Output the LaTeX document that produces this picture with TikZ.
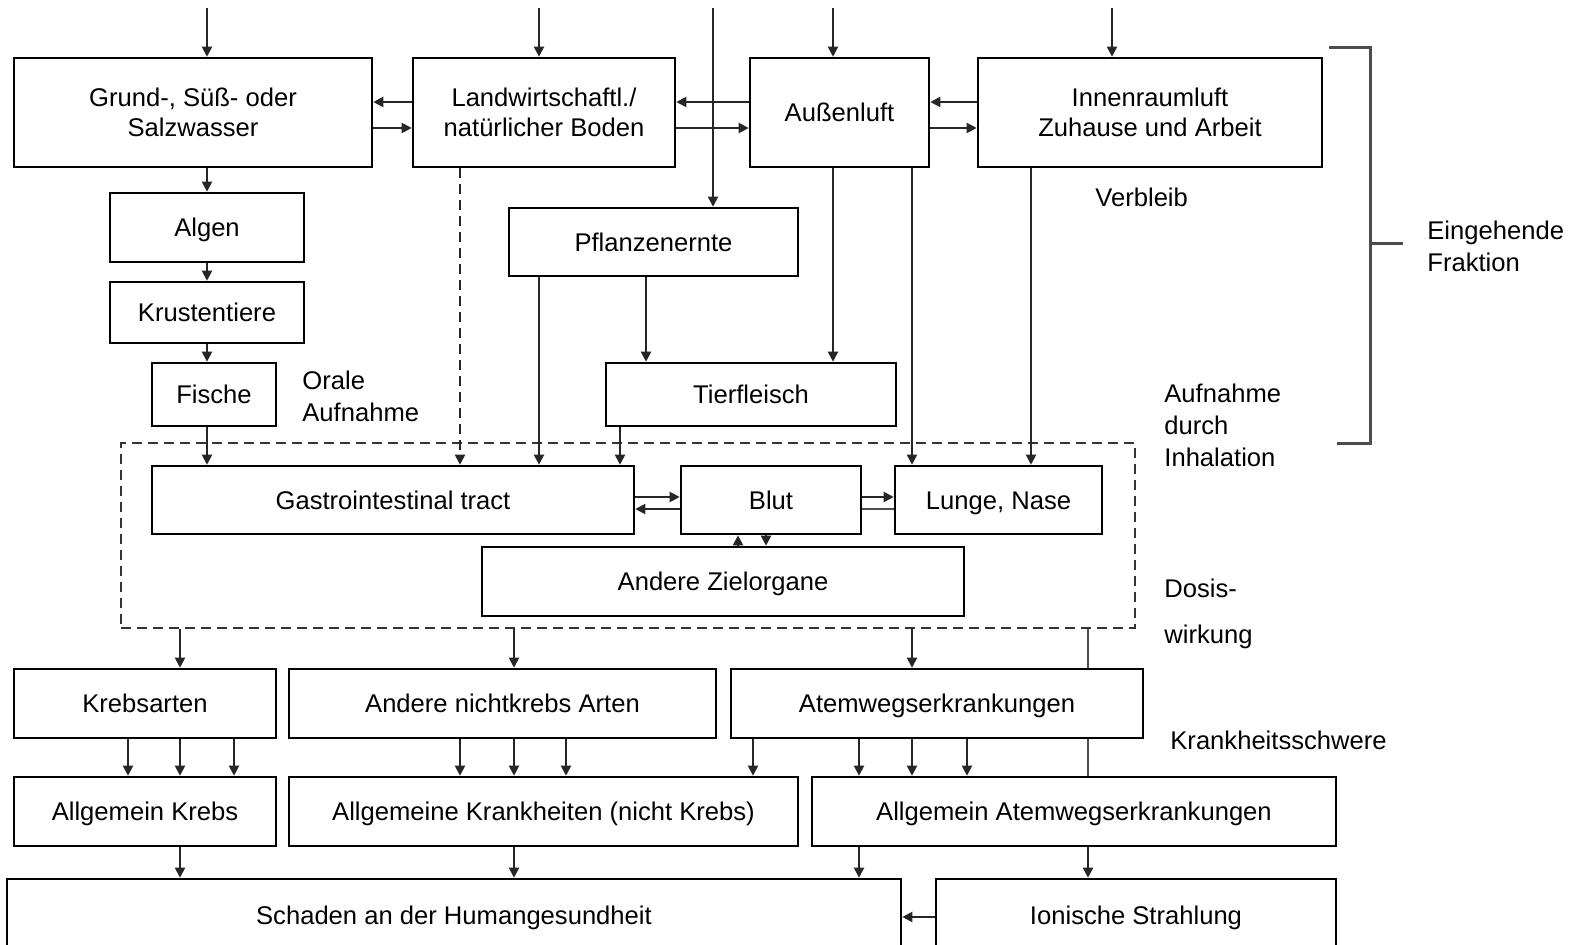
\documentclass[tikz,border=0pt]{standalone}
\usepackage{fontspec}
\setmainfont{Liberation Sans}
\usetikzlibrary{arrows.meta,backgrounds}
\newcommand\vstr{\rule[-2.8pt]{0pt}{14.8pt}}
\newcommand\bx[7][box]{\node[#1, minimum width={(#5-#3)*0.5pt}, minimum height={(#6-#4)*0.5pt}] (#2) at ({(#3+#5)/2},{(#4+#6)/2}) {\vstr#7\vstr};}
\tikzset{
  box/.style={draw, line width=1.3pt, fill=white, inner sep=0pt, align=center, font=\fontsize{12.8}{15}\selectfont},
  dashbox/.style={draw, line width=1pt, dash pattern=on 5pt off 3pt, black!80, inner sep=0pt},
  arr/.style={line width=1pt, black!85, -{Triangle[length=5pt,width=5pt]}},
  dasharr/.style={arr, dash pattern=on 5pt off 3pt},
  plain/.style={line width=1pt, black!70},
  lbl/.style={inner sep=0pt, anchor=west, align=left, font=\fontsize{12.8}{16}\selectfont},
  brk/.style={line width=1.5pt, black!70}
}
\begin{document}
\begin{tikzpicture}[x=0.5pt,y=-0.5pt]
\useasboundingbox (0,0) rectangle (1579,945);
\clip (0,0) rectangle (1579,945);
% column / row helpers
\foreach \c in {128,180,207,234,460,514,539,566,620,646,738,753,766,833,859,912,967,1031,1088}{\coordinate (c\c) at (\c,0);}
\coordinate (r1) at (0,102);
\coordinate (r2) at (0,128);
\coordinate (r3) at (0,497);
\coordinate (r4) at (0,509);
\coordinate (r5) at (0,917);
\coordinate (t1) at (207,8);
\coordinate (t2) at (539,8);
\coordinate (t3) at (713,8);
\coordinate (t4) at (833,8);
\coordinate (t5) at (1112,8);
% dashed dose region
\node[dashbox, minimum width={(1135-121)*0.5pt}, minimum height={(628-443)*0.5pt}] (dose) at ({(121+1135)/2},{(443+628)/2}) {};
% boxes
\bx{grund}{14}{58}{372}{167}{Grund-, Süß- oder\\Salzwasser}
\bx{land}{413}{58}{675}{167}{Landwirtschaftl./\\natürlicher Boden}
\bx{aussen}{750}{58}{929}{167}{Außenluft}
\bx{innen}{978}{58}{1322}{167}{Innenraumluft\\Zuhause und Arbeit}
\bx{algen}{110}{193}{304}{262}{Algen}
\bx{krust}{110}{282}{304}{343}{Krustentiere}
\bx{fische}{152}{363}{276}{426}{Fische}
\bx{pflanz}{509}{208}{798}{276}{Pflanzenernte}
\bx{tier}{606}{363}{896}{426}{Tierfleisch}
\bx{gastro}{152}{466}{634}{534}{Gastrointestinal tract}
\bx{blut}{681}{466}{861}{534}{Blut}
\bx{lunge}{895}{466}{1102}{534}{Lunge, Nase}
\bx{ziel}{482}{547}{964}{616}{Andere Zielorgane}
\bx{krebs}{14}{669}{276}{738}{Krebsarten}
\bx{nichtk}{289}{669}{716}{738}{Andere nichtkrebs Arten}
\bx{atem}{731}{669}{1143}{738}{Atemwegserkrankungen}
\bx{allgk}{14}{777}{276}{846}{Allgemein Krebs}
\bx{allgkr}{289}{777}{798}{846}{Allgemeine Krankheiten (nicht Krebs)}
\bx{allgat}{812}{777}{1336}{846}{Allgemein Atemwegserkrankungen}
\bx{schaden}{7}{879}{901}{951}{Schaden an der Humangesundheit}
\bx{ionisch}{936}{879}{1336}{951}{Ionische Strahlung}
% hidden line behind Atemwegserkrankungen
\begin{pgfonlayer}{background}
\draw[plain] (dose.south -| c1088) -- (allgat.north -| c1088);
\end{pgfonlayer}
% inputs
\draw[arr] (t1) -- (grund.north -| t1);
\draw[arr] (t2) -- (land.north -| t2);
\draw[arr] (t3) -- (pflanz.north -| t3);
\draw[arr] (t4) -- (aussen.north -| t4);
\draw[arr] (t5) -- (innen.north -| t5);
% exchanges between media
\draw[arr] (land.west |- r1) -- (grund.east |- r1);
\draw[arr] (grund.east |- r2) -- (land.west |- r2);
\draw[arr] (aussen.west |- r1) -- (land.east |- r1);
\draw[arr] (land.east |- r2) -- (aussen.west |- r2);
\draw[arr] (innen.west |- r1) -- (aussen.east |- r1);
\draw[arr] (aussen.east |- r2) -- (innen.west |- r2);
% food chain
\draw[arr] (grund.south -| c207) -- (algen.north -| c207);
\draw[arr] (algen.south -| c207) -- (krust.north -| c207);
\draw[arr] (krust.south -| c207) -- (fische.north -| c207);
\draw[arr] (fische.south -| c207) -- (gastro.north -| c207);
\draw[dasharr] (land.south -| c460) -- (gastro.north -| c460);
\draw[arr] (pflanz.south -| c539) -- (gastro.north -| c539);
\draw[arr] (pflanz.south -| c646) -- (tier.north -| c646);
\draw[arr] (tier.south -| c620) -- (gastro.north -| c620);
\draw[arr] (aussen.south -| c833) -- (tier.north -| c833);
\draw[arr] (aussen.south -| c912) -- (lunge.north -| c912);
\draw[arr] (innen.south -| c1031) -- (lunge.north -| c1031);
% inside body
\draw[arr] (gastro.east |- r3) -- (blut.west |- r3);
\draw[arr] (blut.west |- r4) -- (gastro.east |- r4);
\draw[arr] (blut.east |- r3) -- (lunge.west |- r3);
\draw[plain] (lunge.west |- r4) -- (blut.east |- r4);
\draw[arr] (ziel.north -| c738) -- (blut.south -| c738);
\draw[arr] (blut.south -| c766) -- (ziel.north -| c766);
% effects
\draw[arr] (dose.south -| c180) -- (krebs.north -| c180);
\draw[arr] (dose.south -| c514) -- (nichtk.north -| c514);
\draw[arr] (dose.south -| c912) -- (atem.north -| c912);
\foreach \c in {128,180,234}{\draw[arr] (krebs.south -| c\c) -- (allgk.north -| c\c);}
\foreach \c in {460,514,566}{\draw[arr] (nichtk.south -| c\c) -- (allgkr.north -| c\c);}
\draw[arr] (atem.south -| c753) -- (allgkr.north -| c753);
\foreach \c in {859,912,967}{\draw[arr] (atem.south -| c\c) -- (allgat.north -| c\c);}
\draw[arr] (allgk.south -| c180) -- (schaden.north -| c180);
\draw[arr] (allgkr.south -| c514) -- (schaden.north -| c514);
\draw[arr] (allgat.south -| c859) -- (schaden.north -| c859);
\draw[arr] (allgat.south -| c1088) -- (ionisch.north -| c1088);
\draw[arr] (ionisch.west |- r5) -- (schaden.east |- r5);
% bracket
\coordinate (b1) at (1329,48);
\coordinate (b2) at (1370,48);
\coordinate (b3) at (1370,444);
\coordinate (b4) at (1337,444);
\coordinate (b5) at (1370,244);
\coordinate (b6) at (1403,244);
\draw[brk] (b1) -- (b2) -- (b3) -- (b4);
\draw[brk] (b5) -- (b6);
% labels
\node[lbl] (orale) at (302,396) {Orale\\Aufnahme};
\node[lbl] (verbleib) at (1095,197) {Verbleib};
\node[lbl] (eingehend) at (1427,246) {Eingehende\\Fraktion};
\node[lbl] (inhal) at (1164,425) {Aufnahme\\durch\\Inhalation};
\node[lbl] (dosis) at (1164,588) {Dosis-};
\node[lbl] (wirkung) at (1164,637) {wirkung};
\node[lbl] (schwere) at (1170,740) {Krankheitsschwere};
\end{tikzpicture}
\end{document}
